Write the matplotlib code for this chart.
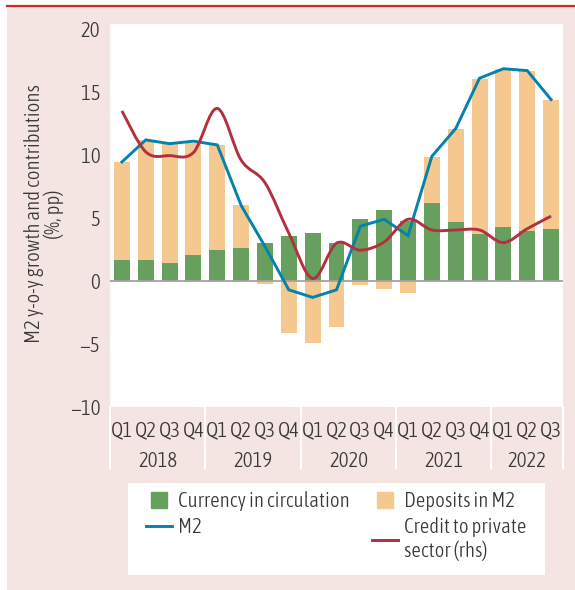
import numpy as np
import matplotlib
matplotlib.use("Agg")
import matplotlib.pyplot as plt
from matplotlib import font_manager as fm
from matplotlib.patches import Rectangle, PathPatch
from matplotlib.lines import Line2D
from matplotlib.path import Path
import matplotlib.transforms as mtransforms

# data, 2018Q1 - 2022Q3
quarters = ["Q1", "Q2", "Q3", "Q4"] * 4 + ["Q1", "Q2", "Q3"]
years = ["2018", "2019", "2020", "2021", "2022"]
currency = [1.7, 1.7, 1.45, 2.05, 2.45, 2.6, 3.0, 3.55, 3.8, 3.0,
            4.9, 5.6, 4.75, 6.2, 4.7, 3.75, 4.3, 4.0, 4.15]
deposits = [7.75, 9.5, 9.45, 8.9, 8.35, 3.45, -0.2, -4.15, -4.9, -3.65,
            -0.35, -0.65, -0.95, 3.65, 7.35, 12.3, 12.5, 12.7, 10.2]
m2 = [9.45, 11.2, 10.9, 11.1, 10.8, 6.0, 2.75, -0.7, -1.3, -0.7,
      4.35, 4.9, 3.6, 9.9, 12.1, 16.1, 16.85, 16.7, 14.4]
credit = [13.5, 10.25, 9.95, 10.2, 13.7, 9.6, 7.8, 3.8, 0.2, 3.0,
          2.45, 3.1, 4.9, 4.05, 4.05, 4.05, 3.05, 4.15, 5.15]

GREEN = '#67a05e'
ORANGE = '#f5c890'
BLUE = '#0582ab'
RED = '#b3303f'
PINK = '#f4e4e2'
TXT = '#383838'


# look for a narrow/condensed face, the original uses a condensed light font
def pick_font():
    cands = []
    for f in fm.fontManager.ttflist:
        n = f.fname.lower()
        if not ('condensed' in n or 'narrow' in n):
            continue
        if any(b in n for b in ('mono', 'serif', 'bold', 'italic', 'oblique',
                                'semi', 'extra', 'black', 'medium', 'thin')):
            continue
        cands.append(f.fname)
    if not cands:
        return None
    cands.sort(key=lambda p: (0 if 'light' in p.lower() else 1, len(p)))
    return cands[0]


FONT = pick_font()
FS = 15 if FONT else 11.5


def fp(size=FS):
    if FONT:
        return fm.FontProperties(fname=FONT, size=size)
    return fm.FontProperties(family='DejaVu Sans', size=size)


W, H = 575, 590
fig = plt.figure(figsize=(W / 100, H / 100), dpi=100)
fig.patch.set_facecolor('white')
fig.add_artist(Rectangle((7 / W, 0), 1, 1 - 7 / H, transform=fig.transFigure,
                         facecolor=PINK, edgecolor='none', zorder=0))
fig.add_artist(Line2D([7 / W, 1], [1 - 6 / H] * 2, color='#d3282b', lw=1.6))

ax = fig.add_axes([110 / W, 1 - 407 / H, 453 / W, 383 / H])
x = np.arange(len(quarters))
cur = np.array(currency)
dep = np.array(deposits)

ax.bar(x, cur, width=0.67, color=GREEN, zorder=2)
ax.bar(x, dep, width=0.67, bottom=np.where(dep > 0, cur, 0), color=ORANGE, zorder=2)
ax.axhline(0, color='#a3a3a3', lw=1.3, zorder=3)
ax.plot(x, m2, color=BLUE, lw=2.1, zorder=4, solid_joinstyle='miter')

# smoothed credit line (Catmull-Rom through the points)
pts = np.column_stack([x, credit]).astype(float)
ext = np.vstack([pts[0], pts, pts[-1]])
verts = [pts[0]]
codes = [Path.MOVETO]
for i in range(len(pts) - 1):
    p0, p1, p2, p3 = ext[i], ext[i + 1], ext[i + 2], ext[i + 3]
    verts += [p1 + (p2 - p0) / 6, p2 - (p3 - p1) / 6, p2]
    codes += [Path.CURVE4] * 3
ax.add_patch(PathPatch(Path(verts, codes), facecolor='none', edgecolor=RED,
                       lw=2.1, zorder=5, capstyle='butt'))

ax.set_xlim(-0.5, 18.5)
ax.set_ylim(-10, 20.4)
ax.set_yticks(range(-10, 21, 5))
ax.tick_params(left=False, bottom=False, labelbottom=False, length=0, pad=7,
               labelcolor=TXT)
for lab in ax.get_yticklabels():
    lab.set_fontproperties(fp())
for s in ax.spines.values():
    s.set_visible(False)

# category axis
trans = mtransforms.blended_transform_factory(ax.transData, ax.transAxes)
for i, q in enumerate(quarters):
    ax.text(i, -0.06, q, transform=trans, ha='center', va='center',
            fontproperties=fp(), color=TXT)
starts = [0, 4, 8, 12, 16, 19]
for k, yr in enumerate(years):
    ax.text((starts[k] + starts[k + 1] - 1) / 2, -0.142, yr, transform=trans,
            ha='center', va='center', fontproperties=fp(), color=TXT)
for b in starts:
    ax.plot([b - 0.5, b - 0.5], [0, -0.158], transform=trans, color='white',
            lw=1.5, clip_on=False)

fig.text(44 / W, 1 - 214 / H, "M2 y-o-y growth and contributions\n(%, pp)",
         rotation=90, ha='center', va='center', multialignment='center',
         fontproperties=fp(), color=TXT, linespacing=1.0)

# legend
fig.add_artist(Rectangle((128 / W, 1 - 575 / H), 417 / W, 92 / H,
                         transform=fig.transFigure, facecolor='white',
                         edgecolor='none', zorder=1))
h_cur = Line2D([], [], marker='s', ls='none', color=GREEN, markersize=11.5)
h_dep = Line2D([], [], marker='s', ls='none', color=ORANGE, markersize=11.5)
h_m2 = Line2D([], [], color=BLUE, lw=2.1)
h_cr = Line2D([], [], color=RED, lw=2.1)
kw = dict(loc='upper left', frameon=False, prop=fp(), handlelength=1.25,
          handletextpad=0.3, labelspacing=0.3, borderpad=0, borderaxespad=0,
          labelcolor=TXT)
leg1 = fig.legend([h_cur, h_m2], ["Currency in circulation", "M2"],
                  bbox_to_anchor=(146 / W, 1 - 491 / H), **kw)
leg2 = fig.legend([h_dep, h_cr], ["Deposits in M2", "Credit to private\nsector (rhs)"],
                  bbox_to_anchor=(372 / W, 1 - 491 / H), **kw)
for lg in (leg1, leg2):
    lg.set_zorder(2)

fig.savefig("out.png", dpi=100, facecolor=fig.get_facecolor())
